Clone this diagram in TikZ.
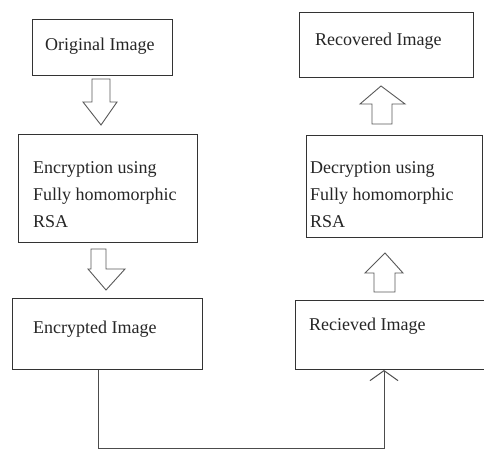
\documentclass[tikz,border=0pt]{standalone}
\usepackage{fontspec}
\setmainfont{Liberation Serif}
\usetikzlibrary{arrows.meta}
\begin{document}
\begin{tikzpicture}[x=1pt,y=-1pt,
  box/.style={draw=black!80, line width=1pt, inner sep=0pt, anchor=north west},
  lbl/.style={anchor=base west, inner sep=0pt, font=\fontsize{18}{27}\selectfont, align=left, text=black!85},
  blk/.style={draw=black!65, line width=0.9pt, fill=white, line join=miter},
  conn/.style={draw=black!70, line width=1pt}]
\useasboundingbox (0,0) rectangle (484,453);
\fill[white] (0,0) rectangle (484,453);
% boxes
\node[box, minimum width=140pt, minimum height=56pt] (orig) at (32,19) {};
\node[box, minimum width=179pt, minimum height=108pt] (enc) at (18,134) {};
\node[box, minimum width=190pt, minimum height=71pt] (encimg) at (12,298) {};
\node[box, minimum width=174pt, minimum height=65pt] (recov) at (299,12) {};
\node[box, minimum width=176pt, minimum height=102pt] (dec) at (306,135) {};
\node[box, minimum width=191pt, minimum height=69pt] (recv) at (295,300) {};
% texts (base of a multi-line node is its last line)
\node[lbl] (torig) at (45,50) {Original Image};
\node[lbl] (tenc) at (33,227) {Encryption using\\Fully homomorphic\\RSA};
\node[lbl] (tencimg) at (33,333) {Encrypted Image};
\node[lbl] (trecov) at (315,45) {Recovered Image};
\node[lbl] (tdec) at (310,227) {Decryption using\\Fully homomorphic\\RSA};
\node[lbl] (trecv) at (309,330) {Recieved Image};
% block arrows
\draw[blk] (92,79) -- (110,79) -- (110,102) -- (117,102) -- (101,125) -- (83,102) -- (92,102) -- cycle;
\draw[blk] (91,249) -- (106,249) -- (106,269) -- (125,269) -- (106,290) -- (88,269) -- (91,269) -- cycle;
\draw[blk] (372,124) -- (392,124) -- (392,104) -- (405,104) -- (381,86) -- (360,104) -- (372,104) -- cycle;
\draw[blk] (374,292) -- (395,292) -- (395,273) -- (403,273) -- (385,253) -- (365,273) -- (374,273) -- cycle;
% connector
\coordinate (cl) at (98,448);
\coordinate (cr) at (384,448);
\draw[conn, -{Straight Barb[length=10pt,width=28pt]}] (encimg.south -| cl) -- (cl) -- (cr) -- (recv.south -| cr);
\end{tikzpicture}
\end{document}
